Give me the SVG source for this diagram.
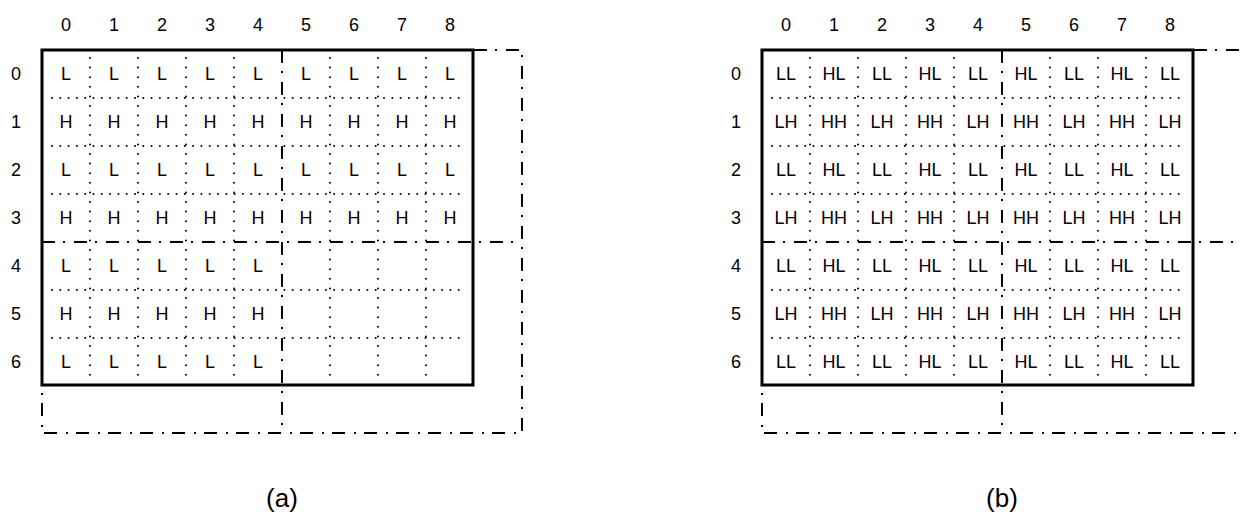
<svg xmlns="http://www.w3.org/2000/svg" width="1241" height="521" viewBox="0 0 1241 521">
<style>
text{font-family:"Liberation Sans",Arial,sans-serif;font-size:18px;fill:#000;text-anchor:middle}
.cap{font-size:26px}
.border{fill:none;stroke:#000;stroke-width:3}
.dd{fill:none;stroke:#000;stroke-width:2;stroke-dasharray:13 8 2 9}
.doth{fill:none;stroke:#000;stroke-width:2;stroke-linecap:round;stroke-dasharray:0 8.3}
.dotv{fill:none;stroke:#000;stroke-width:2;stroke-linecap:round;stroke-dasharray:0 9.6}
</style>
<rect width="1241" height="521" fill="#fff"/>
<defs>
<g id="frame">
<g class="dotted">
<path class="doth" d="M52 98H466M52 146H466M52 194H466M52 290H466M52 338H466"/>
<path class="dotv" d="M90 58V378M138 58V378M186 58V378M234 58V378M330 58V378M378 58V378M426 58V378"/>
</g>
<g class="dashdot">
<path class="dd" d="M474 50H522V433H42V385"/>
<path class="dd" d="M282 50V433"/>
<path class="dd" d="M42 242H522"/>
</g>
<rect class="border" x="42" y="50" width="431" height="335"/>
<g class="heads">
<text x="66" y="31">0</text><text x="114" y="31">1</text><text x="162" y="31">2</text><text x="210" y="31">3</text><text x="258" y="31">4</text><text x="306" y="31">5</text><text x="354" y="31">6</text><text x="402" y="31">7</text><text x="450" y="31">8</text>
<text x="16" y="80">0</text><text x="16" y="128">1</text><text x="16" y="176">2</text><text x="16" y="224">3</text><text x="16" y="272">4</text><text x="16" y="320">5</text><text x="16" y="368">6</text>
</g>
</g>
</defs>
<g id="panel-a">
<use href="#frame"/>
<g id="cells-a">
<text x="66" y="80">L</text><text x="114" y="80">L</text><text x="162" y="80">L</text><text x="210" y="80">L</text><text x="258" y="80">L</text><text x="306" y="80">L</text><text x="354" y="80">L</text><text x="402" y="80">L</text><text x="450" y="80">L</text>
<text x="66" y="128">H</text><text x="114" y="128">H</text><text x="162" y="128">H</text><text x="210" y="128">H</text><text x="258" y="128">H</text><text x="306" y="128">H</text><text x="354" y="128">H</text><text x="402" y="128">H</text><text x="450" y="128">H</text>
<text x="66" y="176">L</text><text x="114" y="176">L</text><text x="162" y="176">L</text><text x="210" y="176">L</text><text x="258" y="176">L</text><text x="306" y="176">L</text><text x="354" y="176">L</text><text x="402" y="176">L</text><text x="450" y="176">L</text>
<text x="66" y="224">H</text><text x="114" y="224">H</text><text x="162" y="224">H</text><text x="210" y="224">H</text><text x="258" y="224">H</text><text x="306" y="224">H</text><text x="354" y="224">H</text><text x="402" y="224">H</text><text x="450" y="224">H</text>
<text x="66" y="272">L</text><text x="114" y="272">L</text><text x="162" y="272">L</text><text x="210" y="272">L</text><text x="258" y="272">L</text>
<text x="66" y="320">H</text><text x="114" y="320">H</text><text x="162" y="320">H</text><text x="210" y="320">H</text><text x="258" y="320">H</text>
<text x="66" y="368">L</text><text x="114" y="368">L</text><text x="162" y="368">L</text><text x="210" y="368">L</text><text x="258" y="368">L</text>
</g>
<text class="cap" x="282" y="507">(a)</text>
</g>
<g id="panel-b">
<use href="#frame" x="720"/>
<g id="cells-b">
<text x="786" y="80">LL</text><text x="834" y="80">HL</text><text x="882" y="80">LL</text><text x="930" y="80">HL</text><text x="978" y="80">LL</text><text x="1026" y="80">HL</text><text x="1074" y="80">LL</text><text x="1122" y="80">HL</text><text x="1170" y="80">LL</text>
<text x="786" y="128">LH</text><text x="834" y="128">HH</text><text x="882" y="128">LH</text><text x="930" y="128">HH</text><text x="978" y="128">LH</text><text x="1026" y="128">HH</text><text x="1074" y="128">LH</text><text x="1122" y="128">HH</text><text x="1170" y="128">LH</text>
<text x="786" y="176">LL</text><text x="834" y="176">HL</text><text x="882" y="176">LL</text><text x="930" y="176">HL</text><text x="978" y="176">LL</text><text x="1026" y="176">HL</text><text x="1074" y="176">LL</text><text x="1122" y="176">HL</text><text x="1170" y="176">LL</text>
<text x="786" y="224">LH</text><text x="834" y="224">HH</text><text x="882" y="224">LH</text><text x="930" y="224">HH</text><text x="978" y="224">LH</text><text x="1026" y="224">HH</text><text x="1074" y="224">LH</text><text x="1122" y="224">HH</text><text x="1170" y="224">LH</text>
<text x="786" y="272">LL</text><text x="834" y="272">HL</text><text x="882" y="272">LL</text><text x="930" y="272">HL</text><text x="978" y="272">LL</text><text x="1026" y="272">HL</text><text x="1074" y="272">LL</text><text x="1122" y="272">HL</text><text x="1170" y="272">LL</text>
<text x="786" y="320">LH</text><text x="834" y="320">HH</text><text x="882" y="320">LH</text><text x="930" y="320">HH</text><text x="978" y="320">LH</text><text x="1026" y="320">HH</text><text x="1074" y="320">LH</text><text x="1122" y="320">HH</text><text x="1170" y="320">LH</text>
<text x="786" y="368">LL</text><text x="834" y="368">HL</text><text x="882" y="368">LL</text><text x="930" y="368">HL</text><text x="978" y="368">LL</text><text x="1026" y="368">HL</text><text x="1074" y="368">LL</text><text x="1122" y="368">HL</text><text x="1170" y="368">LL</text>
</g>
<text class="cap" x="1002" y="507">(b)</text>
</g>
</svg>
